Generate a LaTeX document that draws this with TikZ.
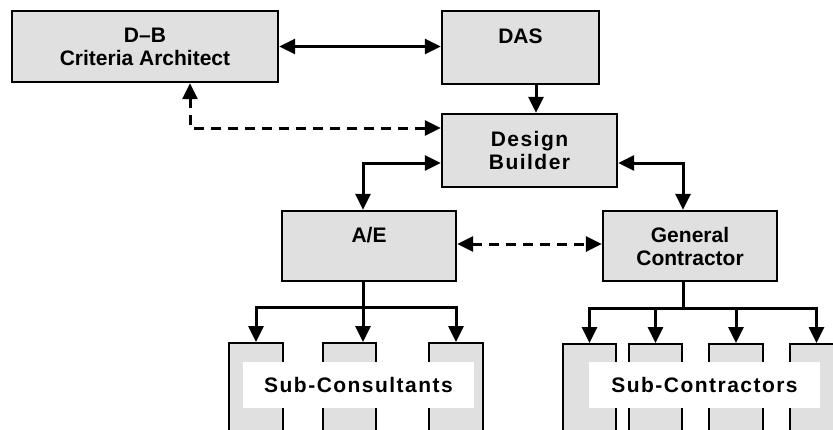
\documentclass[tikz,border=0pt]{standalone}
\usepackage{fontspec}
\setmainfont{Liberation Sans}
\newfontfamily\spacedfont{Liberation Sans}[LetterSpace=7]
\usetikzlibrary{arrows.meta}
\definecolor{boxgray}{RGB}{224,224,224}
\tikzset{
  lbl/.style={font=\fontsize{21bp}{23bp}\selectfont\bfseries},
  slbl/.style={font=\fontsize{21bp}{23bp}\selectfont\spacedfont\bfseries},
  box/.style={draw, line width=2.3bp, fill=boxgray, inner sep=0pt, align=center, lbl},
  subbox/.style={draw, line width=2.3bp, fill=boxgray, inner sep=0pt, anchor=north, minimum height=100bp},
  tagbox/.style={fill=white, inner sep=0pt, minimum width=231bp, minimum height=46bp, slbl},
  conn/.style={line width=3bp},
  arr/.style={conn, -{Triangle[length=16bp,width=15bp]}},
  darr/.style={conn, {Triangle[length=16bp,width=15bp]}-{Triangle[length=16bp,width=15bp]}},
  dashline/.style={dash pattern=on 10bp off 7bp}
}
\begin{document}
\begin{tikzpicture}[x=1bp,y=-1bp]
\path[use as bounding box, clip] (0,0) rectangle (833,429);
\fill[white] (0,0) rectangle (833,429);
% main boxes
\node[box, minimum width=266bp, minimum height=71bp] (dbca) at (145,46.5) {D–B\\Criteria Architect};
\node[box, minimum width=157bp, minimum height=73bp] (das) at (520.5,47.5) {DAS\\\phantom{D}};
\node[box, minimum width=175bp, minimum height=73bp, slbl] (dsb) at (529.5,150.5) {Design\\Builder};
\node[box, minimum width=174bp, minimum height=70bp] (ae) at (369,246) {A/E\\\phantom{A}};
\node[box, minimum width=174bp, minimum height=70bp] (gc) at (690,246) {General\\Contractor};
% sub boxes
\node[subbox, minimum width=54bp] (b1) at (256,342) {};
\node[subbox, minimum width=53bp] (b2) at (349.5,342) {};
\node[subbox, minimum width=54bp] (b3) at (456,342) {};
\node[subbox, minimum width=53bp] (c1) at (589.5,343) {};
\node[subbox, minimum width=53bp] (c2) at (655.5,343) {};
\node[subbox, minimum width=54bp] (c3) at (736,343) {};
\node[subbox, minimum width=53bp] (c4) at (816.5,343) {};
% labels
\node[tagbox] (tcons) at (358.5,385) {Sub-Consultants};
\node[tagbox] (tcontr) at (704.5,384.5) {Sub-Contractors};
% connectors
\draw[darr] (dbca.east) -- (das.west |- dbca.east);
\draw[arr] ([xshift=15.5bp]das.south) -- ([xshift=15.5bp]das.south |- dsb.north);
\draw[darr, dashline] ([xshift=45bp]dbca.south) |- ([yshift=22.5bp]dsb.west);
\draw[darr] ([yshift=-12.5bp]dsb.west) -| ([xshift=-6bp]ae.north);
\draw[darr] ([yshift=-12.5bp]dsb.east) -| ([xshift=-7bp]gc.north);
\draw[darr, dashline] ([yshift=2bp]ae.east) -- ([yshift=2bp]gc.west);
% A/E tree
\coordinate (aeb) at ([xshift=-6bp,yshift=-25bp]ae.south);
\draw[arr] ([xshift=-6bp]ae.south) -- ([xshift=-6bp]ae.south |- b2.north);
\draw[arr] (aeb) -| (b1.north);
\draw[arr] (aeb) -| (b3.north);
% GC tree
\coordinate (gcb) at ([xshift=-7bp,yshift=-26bp]gc.south);
\draw[conn] ([xshift=-7bp]gc.south) -- (gcb);
\draw[arr] (gcb) -| (c1.north);
\draw[arr] (gcb) -| (c2.north);
\draw[arr] (gcb) -| (c3.north);
\draw[arr] (gcb) -| (c4.north);
\end{tikzpicture}
\end{document}
